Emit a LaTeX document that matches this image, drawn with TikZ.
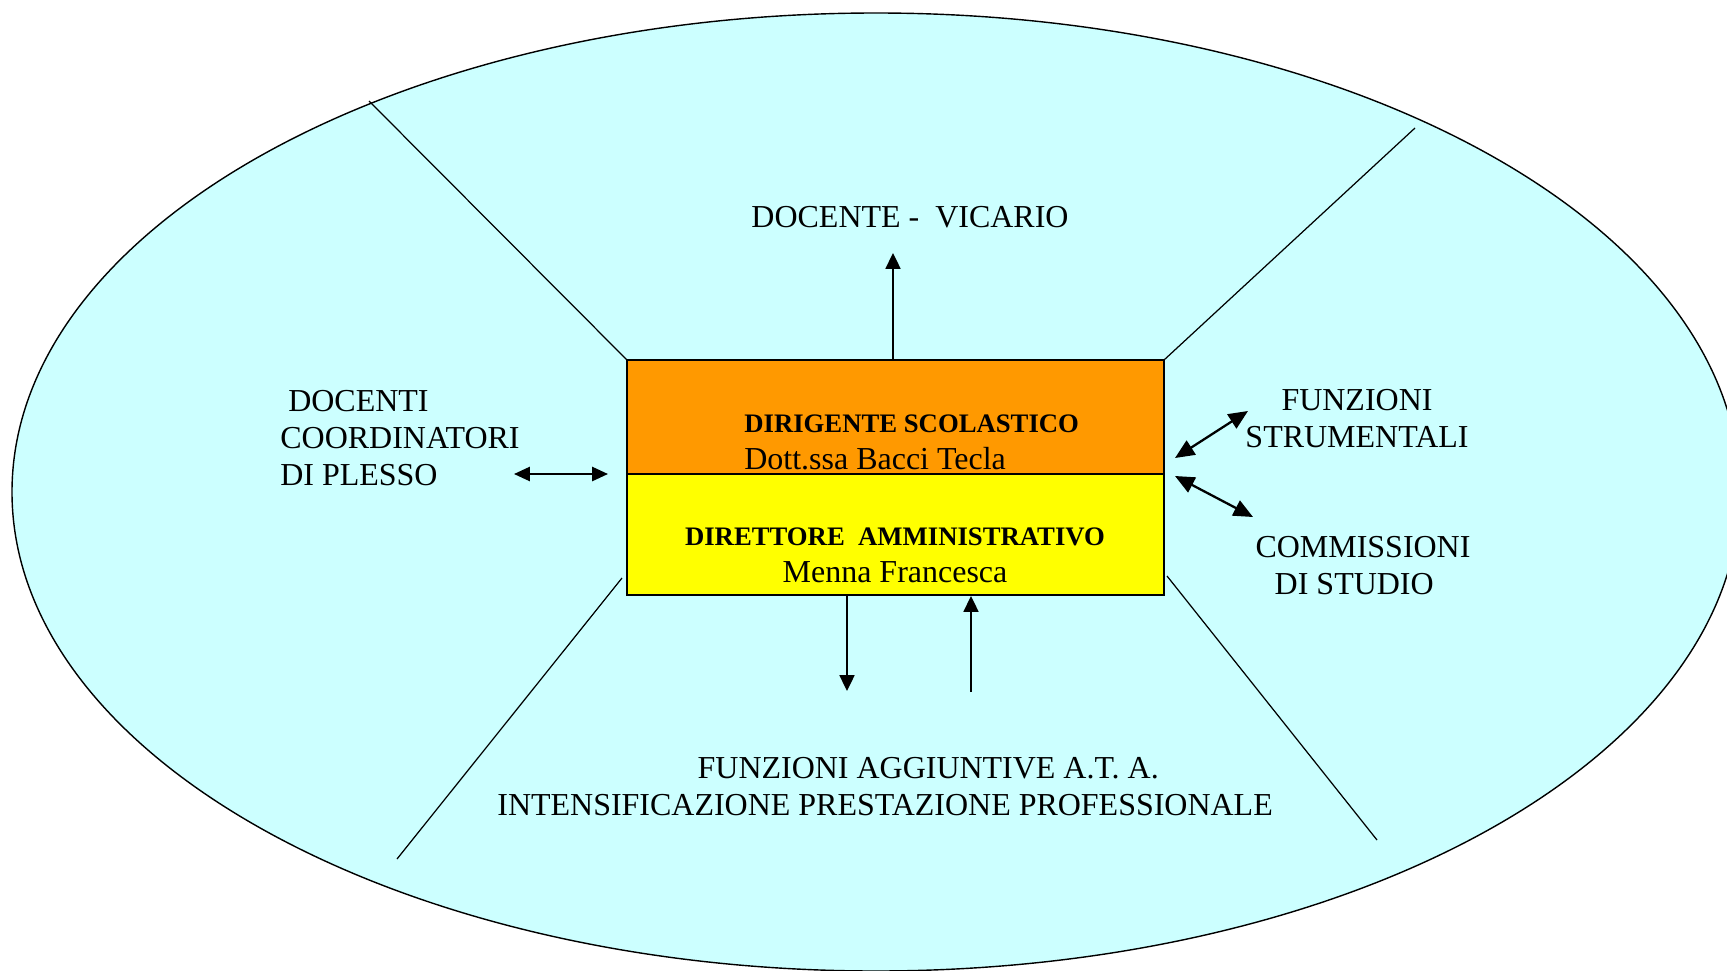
\documentclass[tikz,border=0pt]{standalone}
\usepackage{fontspec}
\setmainfont{Liberation Serif}
\usetikzlibrary{arrows.meta}
\definecolor{skyfill}{HTML}{CCFFFF}
\definecolor{dsorange}{HTML}{FF9900}
\definecolor{dsyellow}{HTML}{FFFF00}
\tikzset{
  lbl/.style={inner sep=0pt, font=\fontsize{18.2}{21}\selectfont},
  blbl/.style={inner sep=0pt, font=\fontsize{15.2}{18}\selectfont\bfseries},
  boxstyle/.style={draw=black, line width=1.1pt, inner sep=0pt, minimum width=10.74cm},
  arr/.style={line width=1.1pt, -{Triangle[length=9pt,width=8.5pt]}},
  darr/.style={line width=1.2pt, {Triangle[length=9pt,width=8pt]}-{Triangle[length=9pt,width=8pt]}},
  bdarr/.style={line width=1.3pt, {Triangle[length=11pt,width=9.5pt]}-{Triangle[length=11pt,width=9.5pt]}},
  sep/.style={line width=0.7pt}
}
\begin{document}
\begin{tikzpicture}[x=0.02cm,y=-0.02cm]
\useasboundingbox (0,0) rectangle (1727,970);
\begin{scope}
\clip (0,0) rectangle (1727,970);
\draw[fill=skyfill, line width=0.8pt] (876,492) ellipse [x radius=864, y radius=479];
\end{scope}
% separator lines
\draw[sep] (369,101) -- (627,360);
\draw[sep] (1415,128) -- (1164,360);
\draw[sep] (622,578) -- (397,859);
\draw[sep] (1167,576) -- (1377,840);
% boxes
\node[boxstyle, fill=dsorange, minimum height=2.28cm] (ds) at (895.5,417) {};
\node[boxstyle, fill=dsyellow, minimum height=2.42cm] (dsga) at (895.5,534.5) {};
% box texts
\node[blbl, anchor=west] (dstitle) at (744,424) {DIRIGENTE SCOLASTICO};
\node[lbl, anchor=west] (dsname) at (744,459) {Dott.ssa Bacci Tecla};
\node[blbl] (gatitle) at (895,537) {DIRETTORE\ \ AMMINISTRATIVO};
\node[lbl] (ganame) at (895,572) {Menna Francesca};
% outer texts
\node[lbl] (vic) at (910,217) {DOCENTE -\ \ VICARIO};
\node[lbl, align=left, anchor=west] (coord) at (280,438) {\hspace*{4.5pt}DOCENTI\\COORDINATORI\\DI PLESSO};
\node[lbl, align=center] (fs) at (1357,419) {FUNZIONI\\STRUMENTALI};
\node[lbl, align=center] (comm) at (1363,566) {COMMISSIONI\\\hspace*{-10pt}DI STUDIO};
\node[lbl, align=left, anchor=west] (ata) at (497,787) {\hspace*{114pt}FUNZIONI AGGIUNTIVE A.T. A.\\INTENSIFICAZIONE PRESTAZIONE PROFESSIONALE};
% connector end points
\coordinate (vtip) at (893,253);
\coordinate (l1) at (514,474);
\coordinate (l2) at (608,474);
\coordinate (f1) at (1175,458);
\coordinate (f2) at (1248,411);
\coordinate (c1) at (1175,476);
\coordinate (c2) at (1253,517);
\coordinate (d1) at (847,596);
\coordinate (d2) at (847,691);
\coordinate (u1) at (971,692);
\coordinate (u2) at (971,596);
% connectors
\draw[arr] (ds.north -| vtip) -- (vtip);
\draw[darr] (l1) -- (l2);
\draw[bdarr] (f1) -- (f2);
\draw[bdarr] (c1) -- (c2);
\draw[arr] (d1) -- (d2);
\draw[arr] (u1) -- (u2);
\end{tikzpicture}
\end{document}
